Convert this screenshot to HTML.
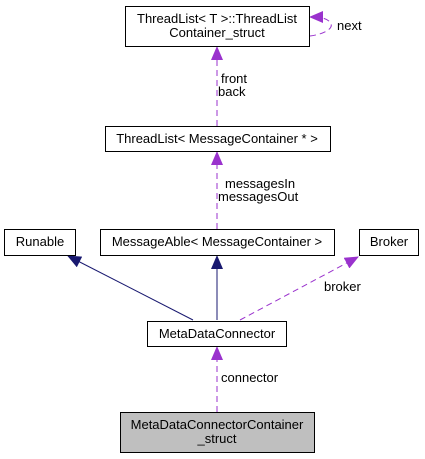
<!DOCTYPE html>
<html><head><style>body{margin:0;background:#fff}svg{display:block}text{font-family:"Liberation Sans",sans-serif;font-size:13px;fill:#000}</style></head><body>
<svg width="425" height="459" viewBox="0 0 425 459">
<defs>
<marker id="p" markerWidth="14" markerHeight="12" refX="13" refY="6" orient="auto" markerUnits="userSpaceOnUse" viewBox="0 0 14 12"><path d="M0,0 L14,6 L0,12 z" fill="#9a32cd"/></marker>
<marker id="b" markerWidth="14" markerHeight="12" refX="13" refY="6" orient="auto" markerUnits="userSpaceOnUse" viewBox="0 0 14 12"><path d="M0,0 L14,6 L0,12 z" fill="#191970"/></marker>
</defs>
<g fill="none" stroke-width="1">
<path d="M217,126 L217,47" stroke="#9a32cd" stroke-dasharray="6,4" marker-end="url(#p)"/>
<path d="M217,229 L217,152" stroke="#9a32cd" stroke-dasharray="6,4" marker-end="url(#p)"/>
<path d="M217,412 L217,347" stroke="#9a32cd" stroke-dasharray="6,4" marker-end="url(#p)"/>
<path d="M240,320 L358,257" stroke="#9a32cd" stroke-dasharray="6,4" marker-end="url(#p)"/>
<path d="M310,36 C325,34 335,28 330,22 C326,18 320,17 310,17" stroke="#9a32cd" stroke-dasharray="6,4" marker-end="url(#p)"/>
<path d="M193,320 L68,256" stroke="#191970" marker-end="url(#b)"/>
<path d="M217,320 L217,256" stroke="#191970" marker-end="url(#b)"/>
</g>
<g stroke="#000" fill="#fff">
<rect x="125.5" y="6.5" width="184" height="40"/>
<rect x="105.5" y="126.5" width="225" height="25"/>
<rect x="4.5" y="229.5" width="71" height="26"/>
<rect x="100.5" y="229.5" width="234" height="26"/>
<rect x="359.5" y="229.5" width="59" height="26"/>
<rect x="147.5" y="321.5" width="139" height="25"/>
<rect x="120.5" y="412.5" width="194" height="40" fill="#bfbfbf"/>
</g>
<g text-anchor="middle">
<text x="217" y="23">ThreadList&lt; T &gt;::ThreadList</text>
<text x="217" y="37">Container_struct</text>
<text x="217" y="143">ThreadList&lt; MessageContainer * &gt;</text>
<text x="40" y="246">Runable</text>
<text x="217" y="246">MessageAble&lt; MessageContainer &gt;</text>
<text x="389" y="246">Broker</text>
<text x="217" y="338">MetaDataConnector</text>
<text x="217" y="429">MetaDataConnectorContainer</text>
<text x="217" y="443">_struct</text>
</g>
<text x="337" y="30">next</text>
<text x="221" y="83">front</text>
<text x="218" y="96">back</text>
<text x="225" y="188">messagesIn</text>
<text x="218" y="201">messagesOut</text>
<text x="324" y="291">broker</text>
<text x="221" y="382">connector</text>
</svg>
</body></html>
